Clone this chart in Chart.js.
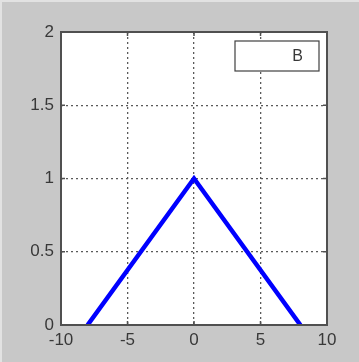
<!DOCTYPE html>
<html>
<head>
<meta charset="utf-8">
<script src="https://cdn.jsdelivr.net/npm/chart.js@4/dist/chart.umd.min.js"></script>
<style>
  html, body { margin: 0; padding: 0; background: #c8c8c8; }
  canvas { display: block; }
</style>
</head>
<body>
<canvas id="plot" width="359" height="362"></canvas>
<script>
const xValues = [-8, 0, 8];
const yValues = [0, 1, 0];
const seriesLabel = 'B';
const xTicks = [-10, -5, 0, 5, 10];
const yTicks = [0, 0.5, 1, 1.5, 2];

const axisColor = '#505050';
const textColor = '#383838';
const fontSpec = { family: 'Liberation Sans, Arial, sans-serif', size: 17 };

// figure background, axes box, inward ticks, legend
const matlabLook = {
    id: 'matlabLook',
    beforeDraw(chart) {
        const ctx = chart.ctx;
        const a = chart.chartArea;
        ctx.save();
        ctx.fillStyle = '#c8c8c8';
        ctx.fillRect(0, 0, chart.width, chart.height);
        ctx.fillStyle = '#e2e2e2';
        ctx.fillRect(0, 0, chart.width, 2);
        ctx.fillRect(0, 0, 2, chart.height);
        ctx.fillStyle = '#ffffff';
        ctx.fillRect(a.left, a.top, a.right - a.left, a.bottom - a.top);
        ctx.restore();
    },
    afterDatasetsDraw(chart) {
        const ctx = chart.ctx;
        const a = chart.chartArea;
        const xs = chart.scales.x;
        const ys = chart.scales.y;
        ctx.save();
        ctx.strokeStyle = axisColor;
        ctx.lineWidth = 2;
        ctx.strokeRect(a.left, a.top, a.right - a.left, a.bottom - a.top);
        ctx.lineWidth = 1.5;
        ctx.beginPath();
        xTicks.forEach(v => {
            const px = xs.getPixelForValue(v);
            ctx.moveTo(px, a.bottom); ctx.lineTo(px, a.bottom - 4);
            ctx.moveTo(px, a.top); ctx.lineTo(px, a.top + 4);
        });
        yTicks.forEach(v => {
            const py = ys.getPixelForValue(v);
            ctx.moveTo(a.left, py); ctx.lineTo(a.left + 4, py);
            ctx.moveTo(a.right, py); ctx.lineTo(a.right - 4, py);
        });
        ctx.stroke();

        // legend box
        const bx = 235, by = 41, bw = 84, bh = 30;
        ctx.fillStyle = '#ffffff';
        ctx.fillRect(bx, by, bw, bh);
        ctx.strokeStyle = '#404040';
        ctx.lineWidth = 1.2;
        ctx.strokeRect(bx, by, bw, bh);
        ctx.fillStyle = textColor;
        ctx.font = '16px ' + fontSpec.family;
        ctx.textAlign = 'right';
        ctx.textBaseline = 'middle';
        ctx.fillText(chart.data.datasets[0].label, 303, by + bh / 2 + 1);
        ctx.restore();
    }
};

const ctx = document.getElementById('plot').getContext('2d');
const myChart = new Chart(ctx, {
    type: 'line',
    data: {
        datasets: [{
            label: seriesLabel,
            data: xValues.map((x, i) => ({ x: x, y: yValues[i] })),
            borderColor: '#0000ff',
            borderWidth: 4.5,
            pointRadius: 0,
            fill: false,
            tension: 0,
            clip: 0
        }]
    },
    options: {
        responsive: false,
        animation: false,
        layout: { padding: { left: 0, top: 32, right: 32, bottom: 0 } },
        plugins: {
            legend: { display: false },
            tooltip: { enabled: false }
        },
        scales: {
            x: {
                type: 'linear',
                min: -10,
                max: 10,
                afterBuildTicks: s => { s.ticks = xTicks.map(v => ({ value: v })); },
                afterFit: s => { s.height = 37; },
                ticks: { color: textColor, font: fontSpec, padding: 5, maxRotation: 0,
                         callback: v => String(v) },
                grid: { color: '#5a5a5a', lineWidth: 1.3, tickLength: 0, drawTicks: false },
                border: { display: false, dash: [2, 3] }
            },
            y: {
                type: 'linear',
                min: 0,
                max: 2,
                afterBuildTicks: s => { s.ticks = yTicks.map(v => ({ value: v })); },
                afterFit: s => { s.width = 61; },
                ticks: { color: textColor, font: fontSpec, padding: 7,
                         callback: v => String(v) },
                grid: { color: '#5a5a5a', lineWidth: 1.3, tickLength: 0, drawTicks: false },
                border: { display: false, dash: [2, 3] }
            }
        }
    },
    plugins: [matlabLook]
});
</script>
</body>
</html>
